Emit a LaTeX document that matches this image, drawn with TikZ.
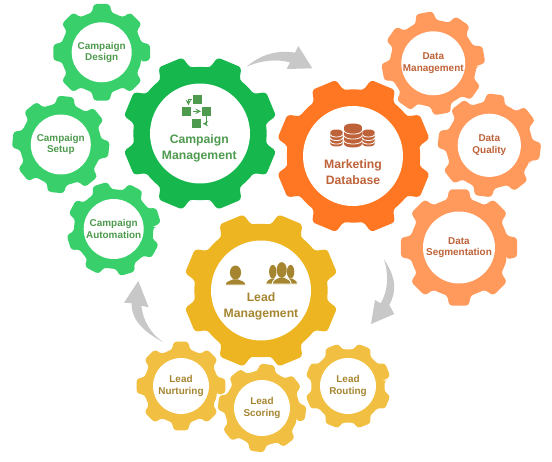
\documentclass[tikz,border=0pt]{standalone}
\usepackage{fontspec}
\setmainfont{Liberation Sans}

% centre, outer radius, root radius, rotation, colour
\newcommand*{\gear}[5]{
	\fill[#5,rounded corners=1.8pt,shift={(#1)},rotate=#4] (-14:#3)
		\foreach \a in {0,45,...,315} {
			-- (\a-9.5:#2) -- (\a+9.5:#2) -- (\a+14:#3) arc (\a+14:\a+31:#3)
		} -- cycle;
}
% centre, half width, half height
\newcommand*{\dbstack}[3]{
	\begin{scope}[shift={(#1)}]
		\fill[orangetext] (-#2,#3-0.3*#2) arc (180:0:#2 and 0.38*#2) -- (#2,-#3+0.3*#2) arc (0:-180:#2 and 0.38*#2) -- cycle;
		\foreach \f in {0.42,-0.02,-0.46} {
			\draw[white,line width=0.45pt] (-#2,{#3*\f}) arc (180:360:#2 and 0.38*#2);
		}
	\end{scope}
}
% base centre, x scale, y scale
\newcommand*{\person}[3]{
	\begin{scope}[shift={(#1)},xscale=#2,yscale=#3]
		\fill[goldtext,draw=white,line width=0.5pt] (-10.5,0) -- (10.5,0) .. controls (10.5,4) and (6,4.5) .. (3,6) -- (-3,6) .. controls (-6,4.5) and (-10.5,4) .. (-10.5,0) -- cycle;
		\fill[goldtext] (0,12.5) ellipse (5.6 and 7);
	\end{scope}
}

\definecolor{greenbig}{HTML}{16B84E}
\definecolor{greensmall}{HTML}{39D06B}
\definecolor{greentext}{HTML}{4E9A4E}
\definecolor{orangebig}{HTML}{FF7722}
\definecolor{orangesmall}{HTML}{FF9A5C}
\definecolor{orangetext}{HTML}{BE6239}
\definecolor{goldbig}{HTML}{EEB522}
\definecolor{goldsmall}{HTML}{F1BF42}
\definecolor{goldtext}{HTML}{A58530}
\definecolor{flowgray}{HTML}{C8C8C8}

\begin{document}
\begin{tikzpicture}
[
	x=0.02cm,y=0.02cm,
	hole/.style={circle,fill=white,inner sep=0pt,minimum size=#1*0.04cm,align=center,font=\fontsize{5.65}{6.6}\selectfont\bfseries},
	biglabel/.style={inner sep=0pt,align=center,font=\fontsize{6.95}{9.1}\selectfont\bfseries},
	iconbox/.style={fill=greentext,inner sep=0pt,minimum size=5.1pt},
	iconarrow/.style={->,>=stealth,greentext,line width=0.4pt},
	flow/.style={fill=flowgray}
]
	\useasboundingbox (0,0) rectangle (552,461);

	% campaign gears
	\gear{101.7,408.7}{49}{40.5}{0}{greensmall}
	\node[hole=30,text=greentext] (cdesign) at (101.7,408.7) {Campaign\\Design};
	\gear{60.8,316.5}{49}{40.5}{-6}{greensmall}
	\node[hole=30,text=greentext] (csetup) at (60.8,316.5) {Campaign\\Setup};
	\gear{113.7,232}{47.5}{39.5}{17}{greensmall}
	\node[hole=30,text=greentext] (cauto) at (113.7,232) {Campaign\\Automation};
	\gear{200,327.5}{78}{66.5}{22.5}{greenbig}
	\node[hole=50] (cmgmt) at (200,327.5) {};
	\node[biglabel,text=greentext] (cmgmtlabel) at (199.3,313) {Campaign\\Management};

	% database gears
	\gear{433.3,397.7}{52}{43}{10}{orangesmall}
	\node[hole=31.6,text=orangetext] (dmgmt) at (433.3,397.7) {Data\\Management};
	\gear{489.3,315.7}{52}{43}{-7}{orangesmall}
	\node[hole=31.6,text=orangetext] (dquality) at (489.3,315.7) {Data\\Quality};
	\gear{459,213.5}{59}{49}{0}{orangesmall}
	\node[hole=36,text=orangetext] (dseg) at (459,213.5) {Data\\Segmentation};
	\gear{353.5,305}{78}{66.5}{22.5}{orangebig}
	\node[hole=50] (mdb) at (353,305) {};
	\node[biglabel,text=orangetext] (mdblabel) at (353,289) {Marketing\\Database};

	% lead gears
	\gear{261,170.5}{78}{66.5}{22.5}{goldbig}
	\node[hole=50] (lmgmt) at (261,170.5) {};
	\node[biglabel,text=goldtext] (lmgmtlabel) at (261,154.5) {Lead\\Management};
	\gear{181,75}{45}{37}{0}{goldsmall}
	\node[hole=28,text=goldtext] (lnurture) at (181,75) {Lead\\Nurturing};
	\gear{262,53}{44.5}{37}{-7}{goldsmall}
	\node[hole=28,text=goldtext] (lscore) at (262,53) {Lead\\Scoring};
	\gear{348,75}{43.5}{36.5}{22.5}{goldsmall}
	\node[hole=28,text=goldtext] (lroute) at (348,75) {Lead\\Routing};

	% campaign icon
	\node[iconbox] (boxa) at (197.3,361.7) {};
	\node[iconbox] (boxb) at (186.7,349.7) {};
	\node[iconbox] (boxc) at (206.7,349.7) {};
	\node[iconbox] (boxd) at (196.7,337.3) {};
	\draw[iconarrow,shorten <=1pt,shorten >=0.5pt] (boxb) -- (boxc);
	\draw[iconarrow,shorten >=0.7pt] (boxa.west) -| ([xshift=1pt]boxb.north);
	\draw[iconarrow,shorten >=0.7pt] (boxc.south) |- (boxd.east);

	% database icon
	\dbstack{336.5,323}{6.2}{8}
	\dbstack{368.5,323}{6.2}{8}
	\dbstack{353,325.5}{8.8}{11.3}

	% people icon
	\person{235.5,176}{1}{1}
	\person{272.8,177}{0.66}{0.98}
	\person{290.6,177}{0.66}{0.98}
	\person{281.7,177}{0.9}{1.12}

	% flow arrows
	\coordinate (flowatail) at (246.7,394.3);
	\coordinate (flowatip) at (312.3,392.7);
	\fill[flow] (flowatail) .. controls (262,408) and (280,411) .. (295,408.3) -- (298.3,415) -- (flowatip) -- (286.7,392) -- (290,398.7) .. controls (276,402) and (262,401) .. (flowatail) -- cycle;

	\coordinate (flowbtail) at (384,201.7);
	\coordinate (flowbtip) at (371,137);
	\fill[flow] (flowbtail) .. controls (396,184) and (397,170) .. (389.3,156) -- (394.3,147) -- (flowbtip) -- (375,161) -- (380.7,157.7) .. controls (388,170) and (389,186) .. (flowbtail) -- cycle;

	\coordinate (flowctail) at (163.3,118.7);
	\coordinate (flowctip) at (138.3,180);
	\fill[flow] (flowctail) .. controls (146,128) and (131,140) .. (131.7,157.7) -- (124,158.3) -- (flowctip) -- (148.7,153.7) -- (141.3,155.3) .. controls (143,140) and (151,127) .. (flowctail) -- cycle;

\end{tikzpicture}
\end{document}
